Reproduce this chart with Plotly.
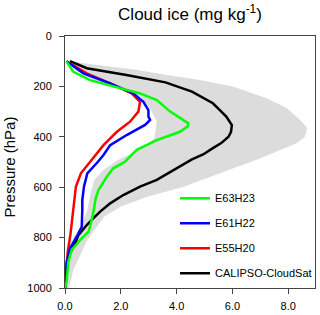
import plotly.graph_objects as go

# ---------------- data ----------------
# CALIPSO-CloudSat (black)
obs_p = [100, 128, 155, 184, 221, 267, 294, 320, 353, 380, 400, 425, 445, 470, 490,
         525, 550, 571, 598, 631, 664, 697, 723, 750, 790, 823, 876, 940, 1000]
obs_v = [0.18, 0.78, 2.2, 3.6, 4.55, 5.3, 5.55, 5.78, 5.98, 5.95, 5.86, 5.6, 5.3, 4.95, 4.55,
         4.0, 3.6, 3.29, 2.69, 2.09, 1.62, 1.26, 1.02, 0.78, 0.48, 0.36, 0.12, 0.04, 0.0]

# E63H23 (green)
e63_p = [100, 142, 175, 201, 228, 254, 300, 327, 347, 358, 380, 413, 452, 499, 525,
         558, 578, 611, 644, 697, 757, 777, 810, 849, 896, 975, 1000]
e63_v = [0.05, 0.3, 0.9, 1.73, 2.69, 3.29, 3.77, 4.15, 4.42, 4.4, 4.12, 3.29, 2.57, 2.15, 1.73,
         1.5, 1.38, 1.2, 1.1, 1.02, 0.9, 0.84, 0.54, 0.24, 0.12, 0.06, 0.0]

# E61H22 (blue)
e61_p = [100, 148, 188, 228, 261, 294, 320, 333, 353, 393, 433, 472, 499, 545,
         598, 651, 690, 757, 790, 823, 843, 896, 962, 1000]
e61_v = [0.05, 0.66, 1.62, 2.45, 2.81, 2.99, 2.99, 3.05, 2.87, 2.21, 1.62, 1.38, 1.18, 0.8,
         0.68, 0.62, 0.62, 0.6, 0.45, 0.3, 0.18, 0.06, 0.01, 0.0]

# E55H20 (red)
e55_p = [100, 148, 188, 228, 261, 300, 340, 380, 433, 485, 545, 598, 690, 783, 856, 920, 980, 1000]
e55_v = [0.05, 0.78, 1.62, 2.39, 2.69, 2.63, 2.33, 1.86, 1.38, 1.0, 0.57, 0.39, 0.3, 0.2, 0.1, 0.05, 0.0, 0.0]

# observational spread (gray shading): right (upper) and left (lower) edges
spread_hi_p = [100, 115, 135, 155, 175, 201, 247, 287, 330, 365, 400, 426, 459, 490, 525,
               556, 600, 636, 677, 717, 770, 810, 856, 929, 1000]
spread_hi_v = [0.1, 1.26, 2.6, 3.65, 4.84, 6.04, 7.23, 7.95, 8.4, 8.68, 8.6, 8.3, 7.6, 6.9, 6.04,
               5.3, 4.2, 3.0, 2.0, 1.4, 1.04, 0.8, 0.6, 0.3, 0.15]
spread_lo_p = [100, 140, 175, 201, 241, 287, 340, 406, 446, 492, 530, 571, 624, 690, 757, 800, 850, 900, 1000]
spread_lo_v = [0.05, 0.45, 1.0, 1.7, 2.7, 3.05, 3.29, 3.2, 2.75, 1.9, 1.4, 1.05, 0.92, 0.8, 0.57, 0.3, 0.12, 0.05, 0.0]

x_ticks = [0, 2, 4, 6, 8]
x_labels = ["0.0", "2.0", "4.0", "6.0", "8.0"]
y_ticks = [0, 200, 400, 600, 800, 1000]
y_labels = ["0", "200", "400", "600", "800", "1000"]

# (name, values, pressures, colour, legend rank)
series = [
    ("CALIPSO-CloudSat", obs_v, obs_p, "#000000", 4),
    ("E55H20", e55_v, e55_p, "#ff0000", 3),
    ("E61H22", e61_v, e61_p, "#0000ff", 2),
    ("E63H23", e63_v, e63_p, "#00ff00", 1),
]

FONT = "Liberation Sans, Arial, Helvetica, sans-serif"

fig = go.Figure()

# gray shading polygon
fig.add_trace(go.Scatter(
    x=spread_hi_v + spread_lo_v[::-1],
    y=spread_hi_p + spread_lo_p[::-1],
    mode="lines", fill="toself", fillcolor="#dcdcdc",
    line=dict(width=0, color="#dcdcdc"),
    showlegend=False, hoverinfo="skip",
))

for name, v, p, col, rank in series:
    fig.add_trace(go.Scatter(
        x=v, y=p, mode="lines", name=name, legendgroup=name, legendrank=rank,
        line=dict(color=col, width=2.5),
    ))

fig.update_layout(
    width=320, height=315, autosize=False,
    margin=dict(l=65, r=5, t=36, b=27, autoexpand=False),
    paper_bgcolor="white", plot_bgcolor="white",
    font=dict(family=FONT, size=11, color="black"),
    title=dict(
        text="Cloud ice (mg kg<sup>-1</sup>)",
        font=dict(family=FONT, size=17, color="black"),
        x=0.5, xref="paper", xanchor="center",
        y=1 - 14 / 315, yref="container", yanchor="middle",
    ),
    showlegend=True,
    legend=dict(
        x=0.44, y=0.414, xanchor="left", yanchor="top",
        bgcolor="rgba(0,0,0,0)", borderwidth=0,
        traceorder="grouped", tracegroupgap=6,
        font=dict(family=FONT, size=11, color="black"),
        itemwidth=30,
    ),
    xaxis=dict(
        range=[0, 8.96], tickvals=x_ticks, ticktext=x_labels,
        showgrid=False, zeroline=False, automargin=False,
        showline=True, mirror=True, linecolor="#444", linewidth=1,
        ticks="outside", ticklen=5, tickcolor="#444", tickwidth=1,
        ticklabelstandoff=3,
    ),
    yaxis=dict(
        range=[1000, 0], tickvals=y_ticks, ticktext=y_labels,
        showgrid=False, zeroline=False, automargin=False,
        showline=True, mirror=True, linecolor="#444", linewidth=1,
        ticks="outside", ticklen=5, tickcolor="#444", tickwidth=1,
        ticklabelstandoff=5,
    ),
    annotations=[dict(
        text="Pressure (hPa)", textangle=-90,
        xref="paper", yref="paper", x=(9.4 - 65) / 250, y=0.48,
        xanchor="center", yanchor="middle", showarrow=False,
        font=dict(family=FONT, size=15, color="black"),
    )],
)

fig.write_html(
    "out.html",
    config={"displayModeBar": False, "staticPlot": True},
    post_script="document.body.style.margin='0';document.body.style.padding='0';",
)
